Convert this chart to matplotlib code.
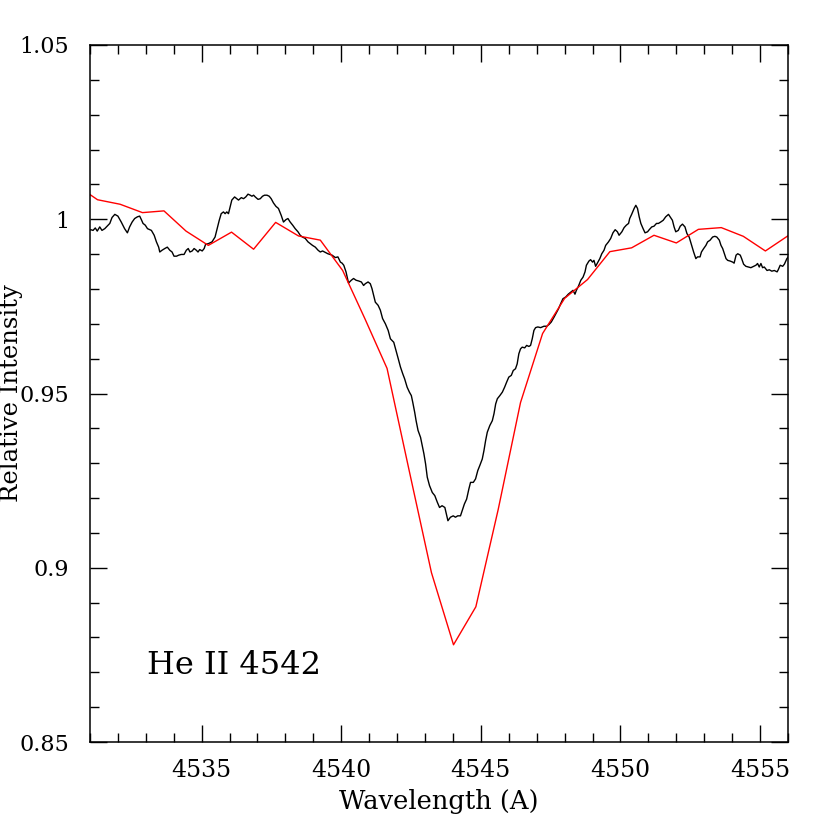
import matplotlib
matplotlib.use("Agg")
import matplotlib.pyplot as plt
from matplotlib.ticker import MultipleLocator

# observed spectrum (black)
wl_obs = [4530.95, 4531.03, 4531.11, 4531.19, 4531.26, 4531.35, 4531.43, 4531.53, 4531.71, 4531.79,
          4531.89, 4532.00, 4532.12, 4532.24, 4532.34, 4532.42, 4532.51, 4532.60, 4532.70, 4532.78,
          4532.84, 4532.90, 4532.98, 4533.06, 4533.20, 4533.30, 4533.38, 4533.46, 4533.50, 4533.58,
          4533.68, 4533.77, 4533.86, 4533.94, 4534.01, 4534.10, 4534.18, 4534.27, 4534.37, 4534.45,
          4534.52, 4534.58, 4534.66, 4534.73, 4534.81, 4534.87, 4534.93, 4535.02, 4535.09, 4535.14,
          4535.24, 4535.37, 4535.48, 4535.54, 4535.63, 4535.70, 4535.78, 4535.84, 4535.90, 4535.96,
          4536.02, 4536.08, 4536.18, 4536.26, 4536.32, 4536.42, 4536.50, 4536.58, 4536.66, 4536.74,
          4536.80, 4536.86, 4536.92, 4537.02, 4537.10, 4537.18, 4537.25, 4537.34, 4537.42, 4537.49,
          4537.57, 4537.66, 4537.75, 4537.85, 4537.93, 4538.02, 4538.09, 4538.17, 4538.26, 4538.35,
          4538.45, 4538.53, 4538.61, 4538.71, 4538.81, 4538.89, 4538.97, 4539.07, 4539.17, 4539.25,
          4539.33, 4539.40, 4539.52, 4539.67, 4539.79, 4539.88, 4539.97, 4540.03, 4540.09, 4540.17,
          4540.26, 4540.36, 4540.44, 4540.53, 4540.62, 4540.72, 4540.80, 4540.86, 4540.96, 4541.04,
          4541.10, 4541.16, 4541.22, 4541.32, 4541.40, 4541.48, 4541.58, 4541.68, 4541.76, 4541.88,
          4541.96, 4542.04, 4542.12, 4542.20, 4542.27, 4542.36, 4542.44, 4542.51, 4542.56, 4542.63,
          4542.68, 4542.75, 4542.84, 4542.90, 4542.96, 4543.02, 4543.08, 4543.16, 4543.26, 4543.35,
          4543.44, 4543.52, 4543.61, 4543.71, 4543.82, 4543.91, 4544.01, 4544.09, 4544.17, 4544.27,
          4544.33, 4544.41, 4544.49, 4544.57, 4544.63, 4544.73, 4544.81, 4544.89, 4544.96, 4545.05,
          4545.11, 4545.17, 4545.23, 4545.32, 4545.41, 4545.47, 4545.53, 4545.59, 4545.68, 4545.77,
          4545.85, 4545.92, 4546.00, 4546.09, 4546.16, 4546.24, 4546.30, 4546.36, 4546.42, 4546.48,
          4546.57, 4546.64, 4546.72, 4546.78, 4546.84, 4546.90, 4546.96, 4547.04, 4547.14, 4547.26,
          4547.36, 4547.44, 4547.52, 4547.62, 4547.78, 4547.86, 4547.94, 4548.04, 4548.13, 4548.22,
          4548.30, 4548.37, 4548.42, 4548.49, 4548.58, 4548.66, 4548.73, 4548.78, 4548.87, 4548.93,
          4549.00, 4549.05, 4549.11, 4549.17, 4549.26, 4549.33, 4549.41, 4549.47, 4549.57, 4549.65,
          4549.73, 4549.81, 4549.89, 4549.95, 4550.05, 4550.13, 4550.21, 4550.29, 4550.33, 4550.40,
          4550.49, 4550.55, 4550.61, 4550.67, 4550.73, 4550.81, 4550.88, 4550.97, 4551.03, 4551.12,
          4551.20, 4551.29, 4551.36, 4551.44, 4551.53, 4551.62, 4551.72, 4551.86, 4551.92, 4551.98,
          4552.07, 4552.14, 4552.22, 4552.31, 4552.38, 4552.46, 4552.55, 4552.62, 4552.70, 4552.76,
          4552.85, 4552.90, 4552.98, 4553.06, 4553.12, 4553.21, 4553.30, 4553.38, 4553.45, 4553.54,
          4553.60, 4553.66, 4553.72, 4553.78, 4553.84, 4553.93, 4554.02, 4554.07, 4554.14, 4554.20,
          4554.29, 4554.34, 4554.41, 4554.49, 4554.58, 4554.67, 4554.77, 4554.85, 4554.91, 4554.97,
          4555.03, 4555.09, 4555.15, 4555.25, 4555.33, 4555.42, 4555.51, 4555.61, 4555.65, 4555.72,
          4555.81, 4555.87, 4555.93, 4555.96, 4556.03]
flux_obs = [0.9968, 0.9970, 0.9968, 0.9975, 0.9966, 0.9978, 0.9968, 0.9973, 0.9988, 1.0005,
            1.0014, 1.0009, 0.9992, 0.9973, 0.9961, 0.9978, 0.9992, 1.0002, 1.0007, 1.0009,
            0.9999, 0.9988, 0.9983, 0.9973, 0.9968, 0.9954, 0.9935, 0.9920, 0.9906, 0.9911,
            0.9916, 0.9920, 0.9911, 0.9906, 0.9894, 0.9894, 0.9897, 0.9899, 0.9899, 0.9911,
            0.9916, 0.9906, 0.9909, 0.9916, 0.9911, 0.9906, 0.9913, 0.9909, 0.9916, 0.9928,
            0.9930, 0.9935, 0.9949, 0.9968, 0.9997, 1.0016, 1.0021, 1.0016, 1.0021, 1.0016,
            1.0035, 1.0055, 1.0064, 1.0059, 1.0055, 1.0062, 1.0059, 1.0064, 1.0072, 1.0069,
            1.0066, 1.0069, 1.0064, 1.0057, 1.0059, 1.0066, 1.0069, 1.0069, 1.0066, 1.0059,
            1.0047, 1.0037, 1.0031, 1.0011, 0.9992, 0.9999, 1.0002, 0.9992, 0.9983, 0.9973,
            0.9964, 0.9954, 0.9949, 0.9945, 0.9935, 0.9930, 0.9925, 0.9920, 0.9911, 0.9906,
            0.9909, 0.9906, 0.9901, 0.9897, 0.9890, 0.9892, 0.9877, 0.9874, 0.9868, 0.9849,
            0.9817, 0.9825, 0.9830, 0.9825, 0.9823, 0.9820, 0.9810, 0.9815, 0.9820, 0.9815,
            0.9801, 0.9782, 0.9762, 0.9753, 0.9739, 0.9715, 0.9700, 0.9681, 0.9657, 0.9647,
            0.9624, 0.9600, 0.9576, 0.9557, 0.9542, 0.9518, 0.9504, 0.9494, 0.9475, 0.9446,
            0.9422, 0.9394, 0.9374, 0.9351, 0.9327, 0.9298, 0.9260, 0.9236, 0.9216, 0.9207,
            0.9188, 0.9173, 0.9178, 0.9173, 0.9135, 0.9145, 0.9149, 0.9145, 0.9149, 0.9149,
            0.9164, 0.9183, 0.9197, 0.9226, 0.9245, 0.9245, 0.9255, 0.9279, 0.9293, 0.9312,
            0.9336, 0.9365, 0.9389, 0.9408, 0.9422, 0.9442, 0.9470, 0.9485, 0.9494, 0.9504,
            0.9518, 0.9532, 0.9547, 0.9552, 0.9566, 0.9571, 0.9585, 0.9614, 0.9628, 0.9633,
            0.9631, 0.9638, 0.9635, 0.9638, 0.9657, 0.9681, 0.9689, 0.9691, 0.9689, 0.9693,
            0.9693, 0.9698, 0.9705, 0.9719, 0.9743, 0.9758, 0.9772, 0.9777, 0.9785, 0.9791,
            0.9796, 0.9785, 0.9796, 0.9807, 0.9825, 0.9834, 0.9849, 0.9868, 0.9880, 0.9884,
            0.9877, 0.9882, 0.9865, 0.9874, 0.9887, 0.9901, 0.9911, 0.9925, 0.9935, 0.9945,
            0.9961, 0.9970, 0.9964, 0.9954, 0.9964, 0.9976, 0.9983, 0.9988, 1.0002, 1.0014,
            1.0031, 1.0040, 1.0031, 1.0007, 0.9988, 0.9973, 0.9961, 0.9964, 0.9970, 0.9978,
            0.9980, 0.9988, 0.9988, 0.9992, 0.9997, 1.0007, 1.0014, 0.9997, 0.9978, 0.9964,
            0.9968, 0.9980, 0.9986, 0.9978, 0.9959, 0.9949, 0.9925, 0.9906, 0.9887, 0.9892,
            0.9892, 0.9906, 0.9916, 0.9925, 0.9935, 0.9940, 0.9949, 0.9951, 0.9949, 0.9940,
            0.9925, 0.9916, 0.9901, 0.9887, 0.9882, 0.9880, 0.9877, 0.9874, 0.9897, 0.9901,
            0.9897, 0.9887, 0.9871, 0.9865, 0.9863, 0.9861, 0.9865, 0.9868, 0.9873, 0.9863,
            0.9873, 0.9861, 0.9863, 0.9853, 0.9855, 0.9851, 0.9853, 0.9849, 0.9855, 0.9868,
            0.9865, 0.9871, 0.9882, 0.9887, 0.9894]

# model spectrum (red)
wl_model = [4530.47, 4531.27, 4532.08, 4532.88, 4533.65, 4534.44, 4535.24, 4536.07, 4536.86, 4537.65,
            4538.47, 4539.25, 4540.05, 4540.85, 4541.64, 4542.44, 4543.23, 4544.02, 4544.82, 4545.62,
            4546.42, 4547.21, 4548.00, 4548.82, 4549.62, 4550.40, 4551.20, 4552.00, 4552.79, 4553.61,
            4554.40, 4555.19, 4555.99]
flux_model = [1.0100, 1.0056, 1.0043, 1.0019, 1.0024, 0.9966, 0.9925, 0.9963, 0.9914, 0.9991,
              0.9952, 0.9940, 0.9853, 0.9714, 0.9572, 0.9276, 0.8986, 0.8779, 0.8888, 0.9167,
              0.9474, 0.9672, 0.9773, 0.9827, 0.9907, 0.9918, 0.9954, 0.9932, 0.9971, 0.9976,
              0.9951, 0.9909, 0.9952]

xticks = [4535, 4540, 4545, 4550, 4555]
yticks = [0.85, 0.9, 0.95, 1.0, 1.05]
ytick_labels = ["0.85", "0.9", "0.95", "1", "1.05"]

plt.rcParams["font.family"] = ["DejaVu Serif"]

fig = plt.figure(figsize=(8.3, 8.3), dpi=100)
ax = fig.add_axes([0.1084, 0.106, 0.841, 0.8398])

ax.plot(wl_obs, flux_obs, color="black", lw=1.0)
ax.plot(wl_model, flux_model, color="red", lw=1.0)

ax.set_xlim(4531, 4556)
ax.set_ylim(0.85, 1.05)

ax.set_xticks(xticks)
ax.xaxis.set_minor_locator(MultipleLocator(1))
ax.set_yticks(yticks)
ax.set_yticklabels(ytick_labels)
ax.yaxis.set_minor_locator(MultipleLocator(0.01))

ax.tick_params(which="both", direction="in", top=True, right=True, width=1.0)
ax.tick_params(which="major", length=12, pad=12)
ax.tick_params(which="minor", length=6.3)
ax.tick_params(axis="x", labelsize=17)
ax.tick_params(axis="y", which="major", pad=15, labelsize=16)
for s in ax.spines.values():
    s.set_linewidth(1.1)

ax.set_xlabel("Wavelength (A)", fontsize=18.5)
ax.set_ylabel("Relative Intensity", fontsize=17.5)
ax.xaxis.set_label_coords(0.5, -0.068)
ax.yaxis.set_label_coords(-0.096, 0.5)

ax.text(4533.05, 0.8695, "He II 4542", fontsize=23, va="baseline")

fig.savefig("out.png", dpi=100)
